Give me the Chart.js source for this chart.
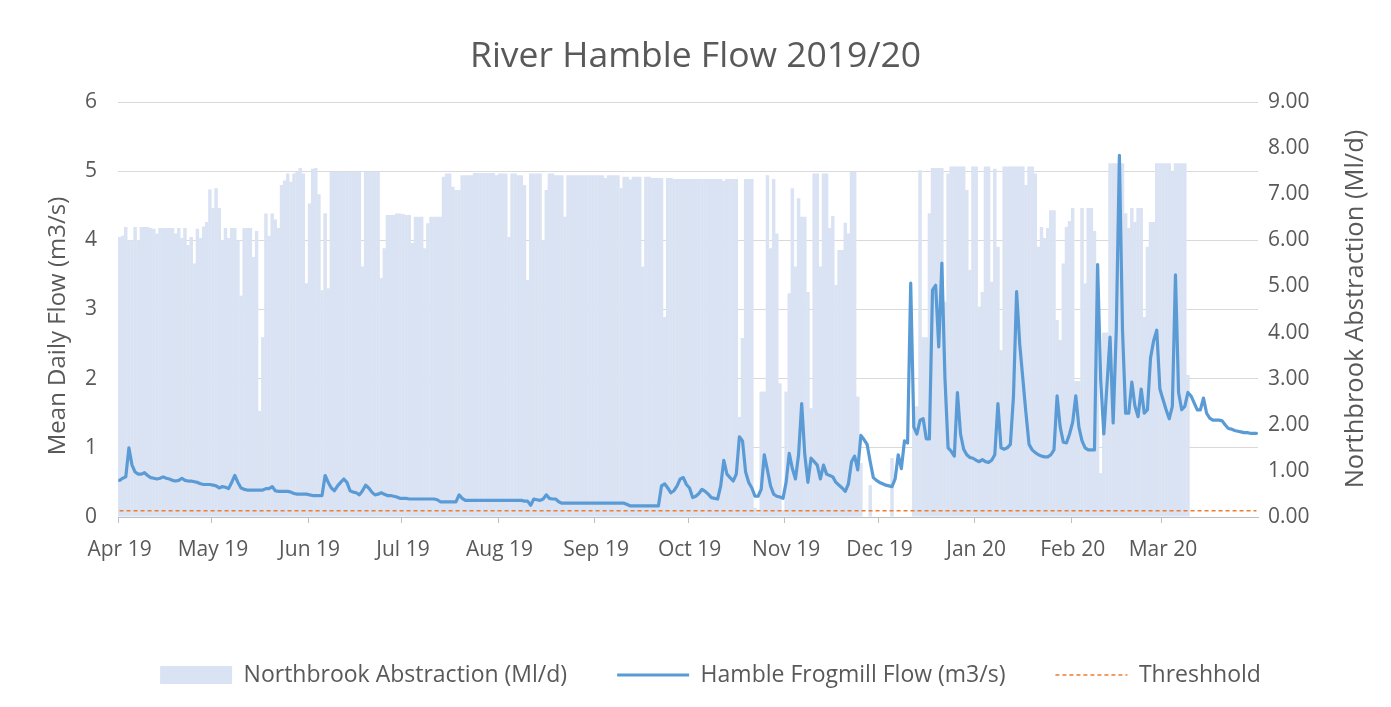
<!DOCTYPE html>
<html>
<head>
<meta charset="utf-8">
<script src="https://cdn.jsdelivr.net/npm/chart.js@4.4.1/dist/chart.umd.min.js"></script>
<style>
html,body{margin:0;padding:0;background:#ffffff;}
#wrap{position:relative;width:1391px;height:707px;}
</style>
</head>
<body>
<div id="wrap"><canvas id="c" width="1391" height="707"></canvas></div>
<script>
// Month tick labels
const monthLabels = ['Apr 19','May 19','Jun 19','Jul 19','Aug 19','Sep 19','Oct 19','Nov 19','Dec 19','Jan 20','Feb 20','Mar 20'];

// Northbrook Abstraction (Ml/d), daily, right axis
const absApr = [6.07,6.1,6.29,6.0,6.0,6.29,6.0,6.29,6.29,6.29,6.27,6.25,6.15,6.27,6.27,6.27,6.27,6.27,6.15,6.27,6.05,6.27,5.9,6.07,5.5,6.25,6.05,6.3,6.4,7.1];
const absMay = [6.7,7.13,6.7,6.0,6.27,6.05,6.27,6.27,6.0,4.8,6.27,6.27,6.27,5.64,6.2,2.3,3.9,6.58,6.1,6.58,6.45,6.27,7.2,7.3,7.45,7.27,7.45,7.49,7.57,7.45,5.07];
const absJun = [6.8,7.55,7.57,7.0,4.92,6.59,4.96,7.49,7.49,7.49,7.49,7.49,7.49,7.49,7.49,7.49,7.49,5.43,7.49,7.49,7.49,7.49,7.49,5.18,5.83,6.55,6.55,6.55,6.58,6.58];
const absJul = [6.57,6.55,6.55,5.94,6.51,6.51,6.51,5.83,6.37,6.51,6.51,6.51,6.51,7.38,7.45,7.45,7.16,7.09,7.09,7.41,7.41,7.41,7.41,7.46,7.46,7.46,7.46,7.46,7.46,7.46,7.41];
const absAug = [7.45,7.45,7.45,6.07,7.45,7.45,7.41,7.41,7.2,5.14,7.45,7.45,7.45,7.45,6.0,7.09,7.45,7.45,7.41,7.41,7.41,6.51,7.41,7.41,7.41,7.41,7.41,7.41,7.41,7.41,7.41];
const absSep = [7.41,7.41,7.41,7.35,7.41,7.41,7.41,7.41,7.13,7.38,7.38,7.32,7.38,7.38,7.38,5.43,7.38,7.38,7.35,7.35,7.35,7.35,4.34,7.35,7.35,7.33,7.33,7.33,7.33,7.33];
const absOct = [7.33,7.33,7.33,7.33,7.33,7.33,7.33,7.33,7.33,7.33,7.33,7.29,7.33,7.33,7.33,7.33,2.17,3.88,7.33,7.33,7.33,0.2,0.1,2.72,2.72,7.41,5.83,7.33,6.15,2.9,0.15];
const absNov = [2.72,4.85,7.13,5.43,6.91,6.51,6.51,4.88,2.36,7.45,7.45,5.43,7.45,7.45,6.27,6.53,5.03,5.79,5.79,6.38,6.15,7.49,7.49,2.61,1.17,0,0,0.69,0,0];
const absDec = [0,0,0,0,1.28,0,0,0,0,0,0,2.4,2.4,7.52,3.9,3.9,6.59,7.57,7.57,7.57,7.57,4.67,7.45,7.6,7.6,7.6,7.6,7.6,7.09,5.36,7.6];
const absJan = [7.6,4.56,4.88,7.6,7.6,5.1,7.55,5.86,3.62,7.6,7.6,7.6,7.6,7.6,7.6,7.6,7.2,7.6,7.6,7.45,5.86,6.29,6.05,6.27,6.65,6.65,4.27,3.84,5.5,6.29,6.42];
const absFeb = [6.7,2.95,2.95,6.7,5.07,6.7,6.7,6.2,5.5,0.95,4.0,4.0,7.67,7.67,7.67,7.67,7.67,6.59,6.27,6.7,6.4,6.7,6.7,4.34,5.86,6.4,6.4,7.67,7.67];
const absMar = [7.67,7.67,7.67,7.49,7.67,7.67,7.67,7.67,3.08,null,null,null,null,null,null,null,null,null,null,null,null,null,null,null,null,null,null,null,null,null,null];

// Hamble Frogmill Flow (m3/s), daily, left axis
const flowApr = [0.53,0.56,0.58,1.0,0.75,0.65,0.62,0.62,0.64,0.6,0.57,0.56,0.55,0.56,0.58,0.56,0.55,0.53,0.52,0.53,0.56,0.53,0.52,0.52,0.51,0.5,0.48,0.47,0.47,0.47];
const flowMay = [0.46,0.45,0.42,0.44,0.43,0.41,0.5,0.6,0.5,0.42,0.4,0.39,0.39,0.39,0.39,0.39,0.39,0.41,0.41,0.44,0.38,0.37,0.37,0.37,0.37,0.36,0.34,0.33,0.33,0.33,0.33];
const flowJun = [0.32,0.31,0.31,0.31,0.31,0.6,0.5,0.42,0.38,0.45,0.5,0.55,0.5,0.38,0.36,0.35,0.32,0.38,0.46,0.42,0.36,0.32,0.33,0.35,0.33,0.31,0.31,0.3,0.29,0.27];
const flowJul = [0.27,0.27,0.26,0.26,0.26,0.26,0.26,0.26,0.26,0.26,0.26,0.25,0.22,0.22,0.22,0.22,0.22,0.22,0.32,0.27,0.24,0.24,0.24,0.24,0.24,0.24,0.24,0.24,0.24,0.24,0.24];
const flowAug = [0.24,0.24,0.24,0.24,0.24,0.24,0.24,0.24,0.23,0.23,0.17,0.26,0.25,0.24,0.26,0.32,0.27,0.26,0.26,0.22,0.2,0.2,0.2,0.2,0.2,0.2,0.2,0.2,0.2,0.2,0.2];
const flowSep = [0.2,0.2,0.2,0.2,0.2,0.2,0.2,0.2,0.2,0.2,0.18,0.16,0.16,0.16,0.16,0.16,0.16,0.16,0.16,0.16,0.16,0.45,0.48,0.42,0.35,0.38,0.45,0.55,0.57,0.47];
const flowOct = [0.42,0.28,0.3,0.34,0.4,0.37,0.33,0.28,0.27,0.26,0.45,0.82,0.62,0.57,0.52,0.62,1.16,1.1,0.65,0.5,0.42,0.3,0.3,0.4,0.9,0.68,0.45,0.33,0.3,0.29,0.27];
const flowNov = [0.5,0.92,0.7,0.55,0.9,1.64,0.9,0.5,0.85,0.8,0.75,0.55,0.75,0.62,0.6,0.58,0.5,0.46,0.42,0.37,0.48,0.8,0.88,0.68,1.18,1.12,1.05,0.8,0.57,0.53];
const flowDec = [0.5,0.48,0.46,0.45,0.44,0.55,0.9,0.7,1.1,1.07,3.38,1.3,1.2,1.4,1.42,1.13,1.13,3.28,3.35,2.46,3.67,2.0,1.0,0.95,0.88,1.8,1.2,0.98,0.9,0.86,0.85];
const flowJan = [0.82,0.8,0.83,0.8,0.79,0.82,0.9,1.64,1.0,0.98,1.0,1.05,1.75,3.26,2.5,2.0,1.5,1.05,0.97,0.93,0.9,0.88,0.87,0.87,0.9,0.97,1.75,1.3,1.08,1.07,1.2];
const flowFeb = [1.37,1.75,1.3,1.1,1.0,0.97,0.97,0.97,3.65,1.98,1.2,1.9,2.6,1.36,2.7,5.23,2.7,1.5,1.5,1.95,1.6,1.45,1.85,1.5,1.55,2.3,2.55,2.7,1.85];
const flowMar = [1.7,1.55,1.42,1.6,3.5,1.8,1.55,1.6,1.8,1.75,1.65,1.55,1.55,1.72,1.5,1.43,1.4,1.4,1.4,1.39,1.33,1.28,1.27,1.25,1.24,1.23,1.22,1.22,1.21,1.21,1.21];

// Threshold (m3/s)
const thresholdValue = 0.09;

// Axis ranges
const leftTickMax = 6;
const rightTickMax = 9;

// ---- assemble ----
const absMonths = [absApr,absMay,absJun,absJul,absAug,absSep,absOct,absNov,absDec,absJan,absFeb,absMar];
const flowMonths = [flowApr,flowMay,flowJun,flowJul,flowAug,flowSep,flowOct,flowNov,flowDec,flowJan,flowFeb,flowMar];
const dayLabels = [];
const tickText = [];
const monthStart = new Set();
flowMonths.forEach((arr, m) => {
  arr.forEach((v, k) => {
    if (k === 0) monthStart.add(dayLabels.length);
    dayLabels.push((k + 1) + ' ' + monthLabels[m]);
    tickText.push(k === 0 ? monthLabels[m] : '');
  });
});
monthStart.add(dayLabels.length);
const abstraction = [].concat(...absMonths);
const flow = [].concat(...flowMonths);

const FONT = 'Open Sans';
const TXT = '#595959';

const axisTitles = {
  id: 'axisTitles',
  afterLayout(chart) {
    // nudge the legend block to the right, as in the reference
    if (chart.legend) { chart.legend.left += 30; }
  },
  afterDraw(chart) {
    const {ctx} = chart;
    const draw = (text, x, y, size) => {
      ctx.save();
      ctx.translate(x, y);
      ctx.rotate(-Math.PI / 2);
      ctx.font = size + 'px "' + FONT + '"';
      ctx.fillStyle = TXT;
      ctx.textAlign = 'center';
      ctx.textBaseline = 'middle';
      ctx.fillText(text, 0, 0);
      ctx.restore();
    };
    draw('Mean Daily Flow (m3/s)', 58, 326, 24);
    draw('Northbrook Abstraction (Ml/d)', 1356, 309, 25.5);
  }
};

new Chart(document.getElementById('c'), {
  type: 'bar',
  data: {
    labels: dayLabels,
    datasets: [
      {
        type: 'bar',
        label: 'Northbrook Abstraction (Ml/d)',
        data: abstraction,
        yAxisID: 'yR',
        backgroundColor: '#DAE3F3',
        borderWidth: 0,
        barPercentage: 1.12,
        categoryPercentage: 1,
        order: 3
      },
      {
        type: 'line',
        label: 'Hamble Frogmill Flow (m3/s)',
        data: flow,
        yAxisID: 'yL',
        borderColor: '#5B9BD5',
        backgroundColor: '#5B9BD5',
        borderWidth: 3.2,
        pointRadius: 0,
        tension: 0,
        borderJoinStyle: 'round',
        borderCapStyle: 'round',
        order: 1
      },
      {
        type: 'line',
        label: 'Threshhold',
        data: [{x: dayLabels[0], y: thresholdValue}, {x: dayLabels[dayLabels.length - 1], y: thresholdValue}],
        yAxisID: 'yL',
        borderColor: '#ED7D31',
        backgroundColor: '#ED7D31',
        borderWidth: 1.5,
        borderDash: [4, 3],
        pointRadius: 0,
        order: 2
      }
    ]
  },
  options: {
    responsive: false,
    animation: false,
    devicePixelRatio: 1,
    layout: {padding: {top: 0, left: 0, right: 0, bottom: 10.5}},
    plugins: {
      title: {
        display: true,
        text: 'River Hamble Flow 2019/20',
        color: TXT,
        font: {family: FONT, size: 35.5, weight: 'normal'},
        padding: {top: 35.7, bottom: 23.7}
      },
      legend: {
        position: 'bottom',
        labels: {
          color: TXT,
          font: {family: FONT, size: 23},
          usePointStyle: true,
          pointStyleWidth: 72,
          boxHeight: 18,
          padding: 50,
          generateLabels: (chart) => chart.data.datasets.map((ds, i) => ({
            text: ds.label,
            datasetIndex: i,
            fillStyle: i === 0 ? '#DAE3F3' : ds.borderColor,
            strokeStyle: i === 0 ? '#DAE3F3' : ds.borderColor,
            lineWidth: i === 0 ? 0 : ds.borderWidth,
            lineDash: ds.borderDash || [],
            pointStyle: i === 0 ? 'rect' : 'line',
            fontColor: TXT,
            hidden: false
          }))
        }
      },
      tooltip: {enabled: false}
    },
    scales: {
      x: {
        type: 'category',
        offset: true,
        grid: {
          offset: true,
          drawOnChartArea: false,
          drawTicks: true,
          tickLength: 6,
          lineWidth: 1,
          color: (c) => monthStart.has(c.index) ? '#BFBFBF' : 'rgba(0,0,0,0)'
        },
        border: {display: true, color: '#BFBFBF', width: 1},
        ticks: {
          autoSkip: false,
          maxRotation: 0,
          minRotation: 0,
          padding: 14,
          color: TXT,
          font: {family: FONT, size: 21},
          callback: (v, i) => tickText[i]
        },
        afterFit: (s) => { s.height = 96.5; }
      },
      yL: {
        position: 'left',
        min: 0,
        max: leftTickMax,
        ticks: {stepSize: 1, padding: 21, color: TXT, font: {family: FONT, size: 21}},
        grid: {color: '#D9D9D9', lineWidth: 1, drawTicks: false},
        border: {display: false},
        afterFit: (s) => { s.width = 118; }
      },
      yR: {
        position: 'right',
        min: 0,
        max: rightTickMax,
        ticks: {stepSize: 1, padding: 10, color: TXT, font: {family: FONT, size: 21}, callback: (v) => Number(v).toFixed(2)},
        grid: {drawOnChartArea: false, drawTicks: false},
        border: {display: false},
        afterFit: (s) => { s.width = 133; }
      }
    }
  },
  plugins: [axisTitles]
});
</script>
</body>
</html>
